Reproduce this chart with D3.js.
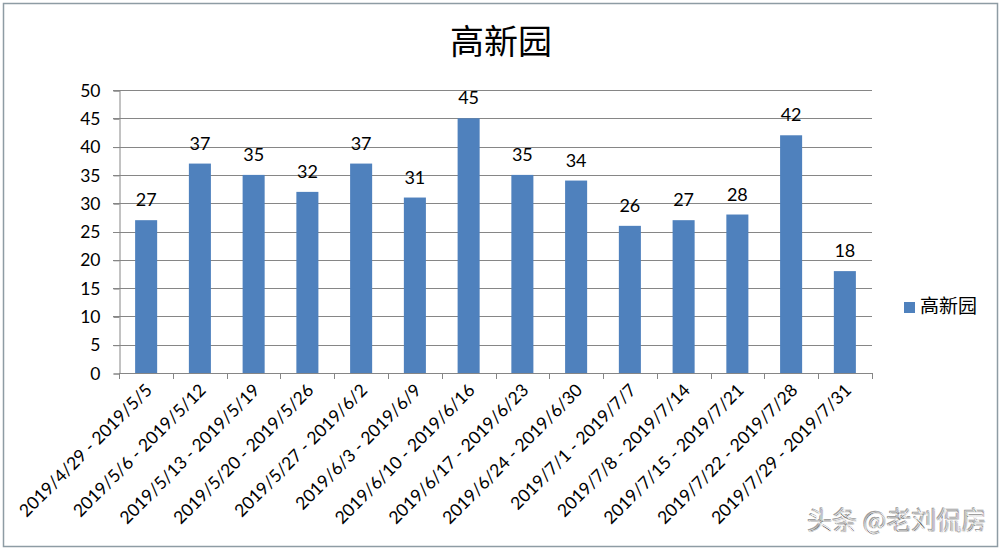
<!DOCTYPE html>
<html><head><meta charset="utf-8">
<script src="https://cdn.jsdelivr.net/npm/d3@7/dist/d3.min.js"></script>
<style>
html,body{margin:0;padding:0;background:#fff;}
svg{display:block;}
</style></head>
<body>
<script>
const categories = ["2019/4/29 - 2019/5/5","2019/5/6 - 2019/5/12","2019/5/13 - 2019/5/19","2019/5/20 - 2019/5/26","2019/5/27 - 2019/6/2","2019/6/3 - 2019/6/9","2019/6/10 - 2019/6/16","2019/6/17 - 2019/6/23","2019/6/24 - 2019/6/30","2019/7/1 - 2019/7/7","2019/7/8 - 2019/7/14","2019/7/15 - 2019/7/21","2019/7/22 - 2019/7/28","2019/7/29 - 2019/7/31"];
const values = [27,37,35,32,37,31,45,35,34,26,27,28,42,18];
const yTicks = [0,5,10,15,20,25,30,35,40,45,50];
const seriesName = "高新园";
const chartTitle = "高新园";
const watermark = "头条 @老刘侃房";

(function(){
const W = 1002, H = 549;
const svg = d3.select("body").append("svg").attr("width", W).attr("height", H);
svg.append("rect").attr("x",0).attr("y",0).attr("width",W).attr("height",H).attr("fill","#fff");
// outer border
svg.append("rect").attr("x",3.5).attr("y",3.5).attr("width",994).attr("height",543)
  .attr("fill","none").attr("stroke","#8e9ca4").attr("stroke-width",1.5);

const pl = 119, pr = 872, pt = 90, pb = 373;
const x = d3.scaleBand().domain(categories).range([pl, pr]).paddingInner(0.59).paddingOuter(0.3);
const xb = d3.scaleBand().domain(categories).range([pl, pr]);
const y = d3.scaleLinear().domain([0,50]).range([pb, pt]);

const font = "Lato, 'Noto Sans', sans-serif";

// gridlines
svg.append("g").selectAll("line").data(yTicks.filter(d=>d>0)).join("line")
  .attr("x1", pl-6).attr("x2", pr).attr("y1", d=>Math.round(y(d))+0.5).attr("y2", d=>Math.round(y(d))+0.5)
  .attr("stroke","#868686").attr("stroke-width",1);

// y axis
const yAxis = d3.axisLeft(y).tickValues(yTicks).tickSize(6).tickPadding(13);
const gy = svg.append("g").attr("transform",`translate(${pl+0.5},0.5)`).call(yAxis);
gy.select(".domain").attr("stroke","#868686");
gy.selectAll(".tick line").attr("stroke","#868686");
gy.selectAll(".tick text").attr("font-family",font).attr("font-size","17.5px").attr("fill","#000");

// bars
svg.append("g").selectAll("rect").data(values).join("rect")
  .attr("x",(d,i)=>x(categories[i])).attr("width",x.bandwidth())
  .attr("y",d=>y(d)).attr("height",d=>pb-y(d)).attr("fill","#4f81bd");

// x axis
const ticksX = categories.map(c=>xb(c)).concat([pr]);
const gx = svg.append("g");
gx.append("line").attr("x1",pl).attr("x2",pr).attr("y1",pb+0.5).attr("y2",pb+0.5).attr("stroke","#868686");
gx.selectAll("line.t").data(ticksX).join("line").attr("class","t")
  .attr("x1",d=>Math.round(d)+0.5).attr("x2",d=>Math.round(d)+0.5).attr("y1",pb).attr("y2",pb+6).attr("stroke","#868686");
gx.selectAll("text").data(categories).join("text")
  .attr("transform",c=>`translate(${xb(c)+xb.bandwidth()/2+3},${pb+14}) rotate(-45)`)
  .attr("text-anchor","end").attr("dy","0.35em")
  .attr("font-family",font).attr("font-size","17.5px").attr("fill","#000")
  .text(c=>c);

// data labels
svg.append("g").selectAll("text").data(values).join("text")
  .attr("x",(d,i)=>x(categories[i])+x.bandwidth()/2).attr("y",d=>y(d)-14)
  .attr("text-anchor","middle").attr("font-family",font).attr("font-size","18px").attr("fill","#000")
  .text(d=>d);

// title
svg.append("text").attr("x",501).attr("y",54).attr("text-anchor","middle")
  .attr("font-family","'Noto Sans CJK SC', sans-serif").attr("font-size","34px").attr("fill","#000")
  .text(chartTitle);

// legend
svg.append("rect").attr("x",904).attr("y",302).attr("width",11).attr("height",11).attr("fill","#4f81bd");
svg.append("text").attr("x",920).attr("y",313).attr("font-family","'Noto Sans CJK SC', sans-serif")
  .attr("font-size","19px").attr("fill","#000").text(seriesName);

// watermark
svg.append("text").attr("x",987).attr("y",530).attr("text-anchor","end")
  .attr("font-family","'Noto Sans CJK SC', sans-serif").attr("font-size","25px")
  .attr("fill","#333").attr("stroke","#fff").attr("stroke-width",0.6)
  .style("text-shadow","1px 1px 0 #fff, -1px -1px 0 #999")
  .text(watermark);
})();
</script>
</body></html>
